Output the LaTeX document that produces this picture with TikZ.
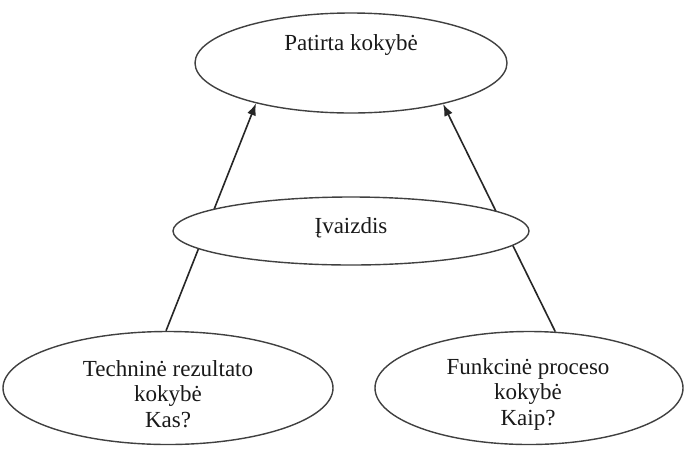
\documentclass[tikz,border=0pt]{standalone}
\usepackage{fontspec}
\setmainfont{Liberation Serif}
\usetikzlibrary{shapes.geometric,arrows.meta,backgrounds}
\tikzset{
  oval/.style={ellipse, draw=black!75, line width=1.4pt, fill=white, inner sep=0pt},
  lbl/.style={font=\fontsize{23}{25.5}\selectfont, align=center, text=black!90, inner sep=0pt},
  arr/.style={line width=1.6pt, draw=black!85, -{Latex[length=12pt,width=9pt]}}
}
\begin{document}
\begin{tikzpicture}[x=1pt,y=-1pt]
\useasboundingbox (0,0) rectangle (684,448);
\node[oval, minimum width=312pt, minimum height=100pt] (top) at (351,63) {};
\node[lbl] (toptext) at (351,45) {Patirta kokybė};
\node[oval, minimum width=356pt, minimum height=68pt] (mid) at (351,231) {};
\node[lbl] (midtext) at (351,228) {Įvaizdis};
\node[oval, minimum width=330pt, minimum height=113pt] (bl) at (168,388) {};
\node[lbl] (bltext) at (168,394) {Techninė rezultato\\kokybė\\Kas?};
\node[oval, minimum width=308pt, minimum height=113pt] (br) at (529,388) {};
\node[lbl] (brtext) at (528,394) {Funkcinė proceso\\kokybė\\Kaip?};
\begin{scope}[on background layer]
\fill[white] (0,0) rectangle (684,448);
\draw[arr] (bl.92) -- (top.203);
\draw[arr] (br.65) -- (top.336);
\end{scope}
\end{tikzpicture}
\end{document}
